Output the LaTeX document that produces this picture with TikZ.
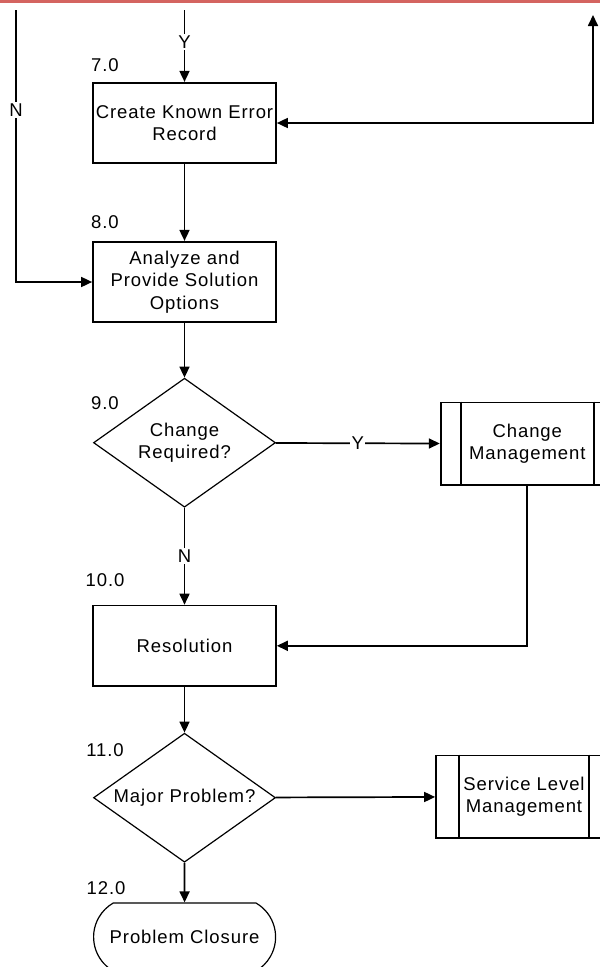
\documentclass[tikz,border=0pt]{standalone}
\usepackage{fontspec}
\setmainfont{Liberation Sans}[LetterSpace=5]
\usepackage{xcolor}
\usetikzlibrary{arrows.meta,shapes.geometric,shapes.misc}
\definecolor{topbar}{RGB}{212,100,96}

\begin{document}
\begin{tikzpicture}[
  x=1pt,
  y=-1pt,
  font=\fontsize{18.5}{22.5}\selectfont,
  >={Triangle[length=11pt,width=10pt]},
  flow/.style={->, line width=1.7pt, draw=black},
  wire/.style={line width=1.7pt, draw=black},
  proc/.style={draw=black, line width=1.7pt, fill=white, minimum width=183pt,
    minimum height=80.5pt, align=center, inner sep=0pt},
  decide/.style={diamond, aspect=1.41, draw=black, line width=1.2pt, fill=white,
    minimum width=182pt, minimum height=129pt, align=center, inner sep=0pt},
  extproc/.style={draw=black, line width=1.7pt, fill=white,
    minimum height=82.5pt, align=center, inner sep=0pt},
  term/.style={rounded rectangle, rounded rectangle arc length=120, draw=black,
    line width=1.2pt, fill=white, minimum width=182pt, minimum height=68pt,
    inner sep=0pt},
  stepno/.style={anchor=center, inner sep=0pt},
  lab/.style={fill=white, inner sep=1.5pt}
]
\useasboundingbox (0,0) rectangle (600,967);
\fill[topbar] (0,0) rectangle (600,3);

\coordinate (nin) at (16,10);
\coordinate (yin) at (184.5,10);
\coordinate (rtop) at (593,15);

\node[proc] (err) at (184.5,123) {Create Known Error\\Record};
\node[proc] (ana) at (184.5,282) {Analyze and\\Provide Solution\\Options};
\node[decide] (chg) at (184.5,442.7) {Change\\Required?};
\node[extproc, minimum width=173.3pt] (cm) at (527.3,443.8) {Change\\Management};
\node[proc] (res) at (184.5,645.8) {Resolution};
\node[decide] (maj) at (184.5,797.7) {Major Problem?};
\node[extproc, minimum width=176pt] (slm) at (524,796.7) {Service Level\\Management};
\node[term] (clo) at (184.6,937) {Problem Closure};

\draw[wire] ([xshift=21pt]cm.north west) -- ([xshift=21pt]cm.south west);
\draw[wire] ([xshift=-21pt]cm.north east) -- ([xshift=-21pt]cm.south east);
\draw[wire] ([xshift=24pt]slm.north west) -- ([xshift=24pt]slm.south west);
\draw[wire] ([xshift=-24pt]slm.north east) -- ([xshift=-24pt]slm.south east);

\node[stepno] (s7) at (105,65) {7.0};
\node[stepno] (s8) at (105,221.7) {8.0};
\node[stepno] (s9) at (105,403) {9.0};
\node[stepno] (s10) at (105,580) {10.0};
\node[stepno] (s11) at (105,750) {11.0};
\node[stepno] (s12) at (106,888) {12.0};

\draw[flow] (yin) -- node[lab, pos=0.45] {Y} (err.north);
\draw[flow] (nin) |- node[lab, pos=0.184] {N} (ana.west);
\draw[wire, <->] (err.east) -| (rtop);
\draw[flow] (err) -- (ana);
\draw[flow] (ana) -- (chg);
\draw[flow] (chg) -- node[lab] {Y} (cm);
\draw[flow] (chg) -- node[lab] {N} (res);
\draw[flow] (cm.south) |- (res.east);
\draw[flow] (res) -- (maj);
\draw[flow] (maj) -- (slm);
\draw[flow] (maj) -- (clo);

\end{tikzpicture}
\end{document}
